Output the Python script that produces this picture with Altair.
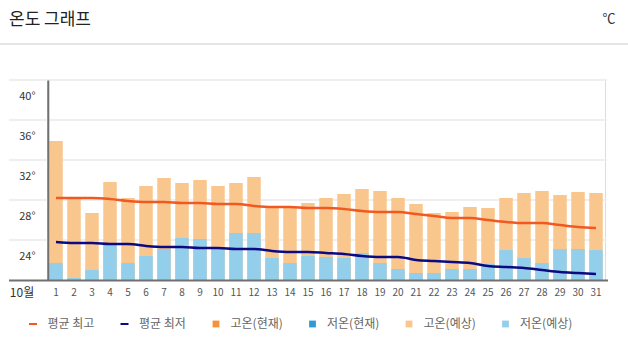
import altair as alt
import pandas as pd

days = [str(d) for d in range(1, 32)]
high_fc = [33.9, 28.1, 26.7, 29.8, 28.2, 29.4, 30.2, 29.7, 30.0, 29.4,
           29.7, 30.3, 27.2, 27.2, 27.7, 28.2, 28.6, 29.1, 28.9, 28.2,
           27.6, 26.7, 26.8, 27.3, 27.2, 28.2, 28.7, 28.9, 28.5, 28.8, 28.7]
low_fc = [21.7, 20.2, 21.0, 23.7, 21.7, 22.4, 23.1, 24.2, 24.1, 23.3,
          24.7, 24.7, 22.2, 21.7, 22.4, 22.3, 22.2, 22.7, 21.7, 21.1,
          20.7, 20.7, 21.1, 21.1, 21.6, 23.0, 22.2, 21.7, 23.1, 23.1, 23.0]
avg_high = [28.2, 28.2, 28.2, 28.1, 27.9, 27.8, 27.8, 27.7, 27.7, 27.6,
            27.6, 27.4, 27.3, 27.3, 27.2, 27.2, 27.1, 26.9, 26.8, 26.8,
            26.6, 26.4, 26.2, 26.2, 26.0, 25.8, 25.7, 25.7, 25.5, 25.3, 25.2]
avg_low = [23.8, 23.7, 23.7, 23.6, 23.6, 23.4, 23.3, 23.3, 23.2, 23.2,
           23.1, 23.1, 22.9, 22.8, 22.8, 22.7, 22.6, 22.4, 22.3, 22.3,
           22.0, 21.9, 21.8, 21.7, 21.4, 21.3, 21.2, 21.0, 20.8, 20.7, 20.6]
y_ticks = [24, 28, 32, 36, 40]
legend_names = ["평균 최고", "평균 최저", "고온(현재)", "저온(현재)", "고온(예상)", "저온(예상)"]
title_text = "온도 그래프"
unit_text = "℃"
month_text = "10월"

C_AVG_HIGH = "#F05A22"
C_AVG_LOW = "#0C0A82"
C_HIGH_NOW = "#F7923A"
C_LOW_NOW = "#2E9BD6"
C_HIGH_FC = "#F9C78E"
C_LOW_FC = "#93CEEB"
legend_colors = [C_AVG_HIGH, C_AVG_LOW, C_HIGH_NOW, C_LOW_NOW, C_HIGH_FC, C_LOW_FC]
DASH = "M-1,-0.25H1V0.25H-1Z"
SQ = "M-0.85,-0.85H0.85V0.85H-0.85Z"
legend_shapes = [DASH, DASH, SQ, SQ, SQ, SQ]

FONT = "Noto Sans CJK KR"

df = pd.DataFrame({"day": days, "high": high_fc, "low": low_fc,
                   "avg_high": avg_high, "avg_low": avg_low})

x_enc = alt.X("day:N", sort=days,
              scale=alt.Scale(domain=days, paddingInner=0.25, paddingOuter=0.125),
              axis=alt.Axis(title=None, labelAngle=0, domain=False, ticks=False, grid=False,
                            labelPadding=7, labelFontSize=10, labelColor="#555", labelFont=FONT))
y_scale = alt.Scale(domain=[20, 40], nice=False, zero=False)
y_axis = alt.Axis(title=None, values=y_ticks, labelExpr="datum.value + '°'", labelOffset=16,
                  labelPadding=12, domain=False, ticks=False, grid=False, labelFontSize=11,
                  labelColor="#333", labelFont=FONT)

base = alt.Chart(df)

grid = alt.Chart(pd.DataFrame({"v": y_ticks})).mark_rule(color="#efefef", strokeWidth=2).encode(
    y=alt.Y("v:Q", scale=y_scale, axis=y_axis), x=alt.value(-38), x2=alt.value(560))

bars_high = base.mark_bar(color=C_HIGH_FC).encode(
    x=x_enc, y=alt.Y("high:Q", scale=y_scale, axis=y_axis), y2=alt.datum(20))
bars_low = base.mark_bar(color=C_LOW_FC).encode(
    x=x_enc, y=alt.Y("low:Q", scale=y_scale, axis=y_axis), y2=alt.datum(20))
line_high = base.mark_line(color=C_AVG_HIGH, strokeWidth=2.5, interpolate="monotone").encode(
    x=x_enc, y=alt.Y("avg_high:Q", scale=y_scale, axis=y_axis))
line_low = base.mark_line(color=C_AVG_LOW, strokeWidth=2.5, interpolate="monotone").encode(
    x=x_enc, y=alt.Y("avg_low:Q", scale=y_scale, axis=y_axis))

one = pd.DataFrame({"t": [title_text]})
x_axis_line = alt.Chart(one).mark_rule(color="#707070", strokeWidth=2).encode(
    x=alt.value(-38), x2=alt.value(561), y=alt.value(200.5))
y_axis_line = alt.Chart(one).mark_rule(color="#707070", strokeWidth=2).encode(
    x=alt.value(1.3), y=alt.value(0.5), y2=alt.value(200))
separator = alt.Chart(one).mark_rule(color="#dddddd", strokeWidth=1.5).encode(
    x=alt.value(-47), x2=alt.value(581), y=alt.value(-36))

title = alt.Chart(one).mark_text(align="left", baseline="middle", fontSize=17, color="#222",
                                 font=FONT).encode(
    x=alt.value(-38), y=alt.value(-60), text="t:N")
unit = alt.Chart(pd.DataFrame({"t": [unit_text]})).mark_text(
    align="center", baseline="middle", fontSize=13, color="#333", font=FONT).encode(
    x=alt.value(562), y=alt.value(-61), text="t:N")
month = alt.Chart(pd.DataFrame({"t": [month_text]})).mark_text(
    align="center", baseline="middle", fontSize=12, color="#333", font=FONT).encode(
    x=alt.value(-25), y=alt.value(213), text="t:N")

leg = alt.Legend(title=None, orient="none", legendX=-20, legendY=238, direction="horizontal",
                 symbolSize=64, symbolStrokeWidth=0, labelFontSize=12, labelColor="#666",
                 labelFont=FONT, labelOffset=8.5, columnPadding=23.5, padding=0)
legend_layer = alt.Chart(pd.DataFrame({"name": legend_names})).mark_point(
    filled=True, size=64, clip=True, opacity=1).encode(
    x=alt.value(10), y=alt.value(-500),
    color=alt.Color("name:N", scale=alt.Scale(domain=legend_names, range=legend_colors), legend=leg),
    shape=alt.Shape("name:N", scale=alt.Scale(domain=legend_names, range=legend_shapes), legend=leg))

chart = alt.layer(
    grid, bars_high, bars_low, line_high, line_low, x_axis_line, y_axis_line,
    separator, title, unit, month, legend_layer
).properties(
    width=558, height=200,
    autosize=alt.AutoSizeParams(type="none"),
    padding={"left": 47, "top": 80, "right": 23, "bottom": 72}
).configure_view(stroke=None).configure(font=FONT, background="white")

chart.save("out.html", embed_options={"renderer": "svg", "actions": False})
